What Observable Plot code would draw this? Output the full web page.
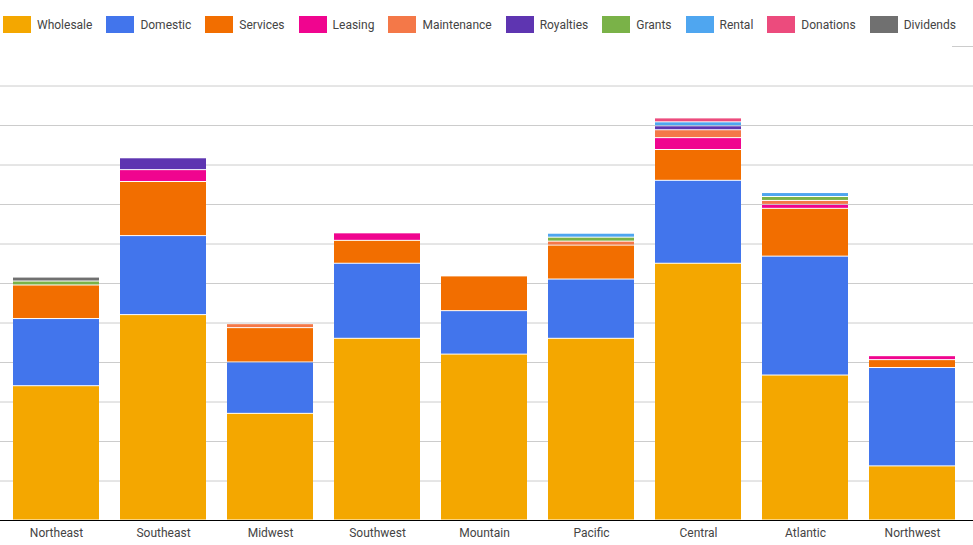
<!DOCTYPE html>
<html>
<head>
<meta charset="utf-8">
<script src="https://cdn.jsdelivr.net/npm/d3@7"></script>
<script src="https://cdn.jsdelivr.net/npm/@observablehq/plot@0.6"></script>
<style>
  body { margin: 0; background: #fff; font-family: Roboto, "Noto Sans", sans-serif; }
  #wrap { position: relative; width: 973px; height: 545px; overflow: hidden; }
  #legend { position: absolute; left: 0; top: 0; width: 952px; height: 50px; background: #fff;
            display: flex; align-items: flex-start; box-sizing: border-box; padding: 16px 0 0 3px; overflow: visible; }
  .item { display: flex; align-items: center; margin-right: 14px; font-size: 12px; color: #444; height: 17px; white-space: nowrap; flex: none; }
  .sw { width: 28px; height: 17px; margin-right: 6px; flex: none; }
</style>
</head>
<body>
<div id="wrap"><div id="chart"></div><div id="legend"></div></div>
<script>
// Categories (x axis)
const categories = ["Northeast", "Southeast", "Midwest", "Southwest", "Mountain", "Pacific", "Central", "Atlantic", "Northwest"];

// Series (legend order = stacking order, bottom to top)
const seriesNames = ["Wholesale", "Domestic", "Services", "Leasing", "Maintenance", "Royalties", "Grants", "Rental", "Donations", "Dividends"];
const seriesColors = ["#f4a700", "#4275ec", "#f26e00", "#f0058f", "#f47848", "#5e35b1", "#7ab248", "#4fa6f0", "#ec4b7d", "#707070"];

// Values per series, one per category
const wholesale   = [34, 52, 27, 46, 42, 46, 65, 36.7, 13.7];
const domestic    = [17, 20, 13, 19, 11, 15, 21, 30.1, 24.9];
const services    = [8.5, 13.7, 8.7, 5.8, 8.8, 8.6, 7.8, 12.1, 2];
const leasing     = [0, 3, 0, 1.9, 0, 0, 3, 1, 1];
const maintenance = [0, 0, 1, 0, 0, 1, 2, 1, 0];
const royalties   = [0, 3, 0, 0, 0, 0, 1, 0, 0];
const grants      = [1, 0, 0, 0, 0, 1, 0, 1, 0];
const rental      = [0, 0, 0, 0, 0, 1, 1, 1, 0];
const donations   = [0, 0, 0, 0, 0, 0, 1, 0, 0];
const dividends   = [1, 0, 0, 0, 0, 0, 0, 0, 0];

// Gridline values
const gridTicks = [10, 20, 30, 40, 50, 60, 70, 80, 90, 100, 110, 120];

const seriesValues = [wholesale, domestic, services, leasing, maintenance, royalties, grants, rental, donations, dividends];
const data = seriesNames.flatMap((s, i) =>
  categories.map((c, j) => ({category: c, series: s, value: seriesValues[i][j]}))
).filter(d => d.value > 0);

const chart = Plot.plot({
  width: 973,
  height: 545,
  marginTop: 46,
  marginBottom: 25,
  marginLeft: 0,
  marginRight: 0,
  style: {fontFamily: "Roboto, 'Noto Sans', sans-serif", fontSize: "12px", color: "#444", background: "#fff"},
  x: {domain: categories, paddingInner: 0.2, paddingOuter: 0.142, align: 0.4},
  y: {domain: [0, 120], axis: null},
  color: {domain: seriesNames, range: seriesColors},
  marks: [
    Plot.ruleY(gridTicks, {stroke: "#cccccc", strokeWidth: 1}),
    Plot.barY(data, {x: "category", y: "value", fill: "series", insetTop: 0.5, insetBottom: 0.5}),
    Plot.ruleY([0], {stroke: "#000", strokeWidth: 1}),
    Plot.axisX({tickSize: 0, tickPadding: 8, fontSize: 12, label: null})
  ]
});
document.getElementById("chart").appendChild(chart);

const legend = document.getElementById("legend");
seriesNames.forEach((name, i) => {
  const item = document.createElement("div");
  item.className = "item";
  const sw = document.createElement("span");
  sw.className = "sw";
  sw.style.background = seriesColors[i];
  const label = document.createElement("span");
  label.textContent = name;
  item.appendChild(sw);
  item.appendChild(label);
  legend.appendChild(item);
});
</script>
</body>
</html>
